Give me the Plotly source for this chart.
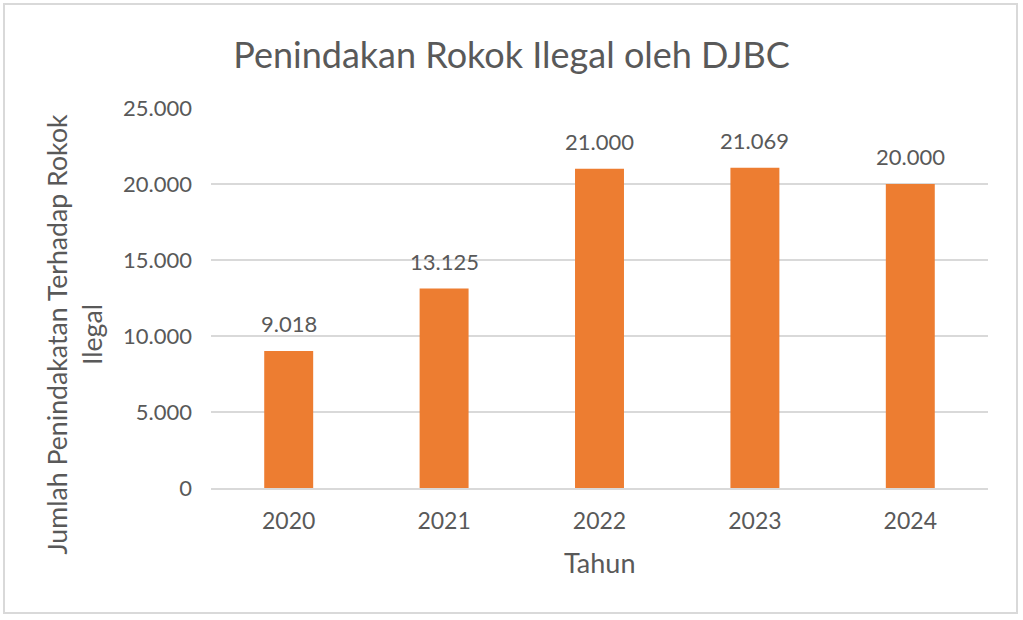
import plotly.graph_objects as go

years = ["2020", "2021", "2022", "2023", "2024"]
values = [9018, 13125, 21000, 21069, 20000]
y_ticks = [0, 5000, 10000, 15000, 20000, 25000]

BAR = "#ED7D31"
TXT = "#595959"
GRID = "#D9D9D9"
FONT = "Lato"

def fmt(v):
    return f"{v:,}".replace(",", ".")

fig = go.Figure()
fig.add_trace(go.Bar(x=years, y=values, marker=dict(color=BAR, line=dict(width=0)),
                     hoverinfo="x+y"))

annotations = []
for i, v in enumerate(values):
    annotations.append(dict(x=i, y=v, xref="x", yref="y", text=fmt(v), showarrow=False,
                            yanchor="bottom", yshift=12,
                            font=dict(family=FONT, size=22, color=TXT)))
# y-axis title
annotations.append(dict(x=-0.1757, y=0.405, xref="paper", yref="paper",
                        text="Jumlah Penindakatan Terhadap Rokok<br>Ilegal",
                        textangle=-90, showarrow=False, xanchor="center", yanchor="middle",
                        font=dict(family=FONT, size=26.7, color=TXT)))
# x-axis title
annotations.append(dict(x=0.5, y=-0.195, xref="paper", yref="paper", text="Tahun",
                        showarrow=False, xanchor="center", yanchor="middle",
                        font=dict(family=FONT, size=27, color=TXT)))

fig.update_layout(
    width=1023, height=620,
    margin=dict(l=211, r=35, t=108, b=132),
    paper_bgcolor="white", plot_bgcolor="white",
    separators=",.",
    bargap=0.685,
    showlegend=False,
    title=dict(text="Penindakan Rokok Ilegal oleh DJBC", x=0.5, xref="container",
               y=1 - 55 / 620, yanchor="middle", xanchor="center",
               font=dict(family=FONT, size=36, color=TXT)),
    font=dict(family=FONT, color=TXT),
    xaxis=dict(type="category", range=[-0.5, len(years) - 0.5], showgrid=False,
               showline=True, linecolor=GRID, linewidth=1.5,
               ticks="", tickfont=dict(family=FONT, size=23, color=TXT),
               ticklabelstandoff=12, fixedrange=True),
    yaxis=dict(range=[0, 25000], tickvals=y_ticks, tickformat=",d",
               showgrid=True, gridcolor=GRID, gridwidth=1.5, zeroline=False,
               showline=False, ticks="", tickfont=dict(family=FONT, size=22, color=TXT),
               ticklabelstandoff=18, fixedrange=True),
    annotations=annotations,
    shapes=[dict(type="rect", xref="paper", yref="paper",
                 x0=-0.2664, x1=1.0373, y0=-0.329, y1=1.2737,
                 line=dict(color=GRID, width=2), fillcolor="rgba(0,0,0,0)", layer="below")],
)

fig.write_html("out.html", config={"displayModeBar": False},
               post_script="document.body.style.margin='0';")
